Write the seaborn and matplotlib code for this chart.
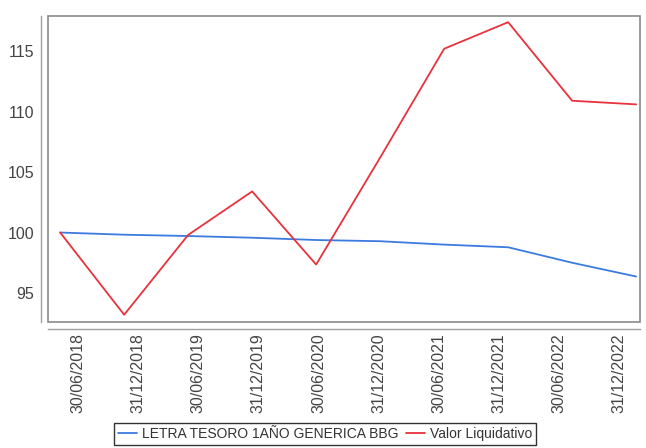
import numpy as np
import pandas as pd
import matplotlib
matplotlib.use("Agg")
import matplotlib.pyplot as plt
from matplotlib.patches import Rectangle
import seaborn as sns

# ---- data ----
periods = np.arange(10)
letra = [100.0, 99.82, 99.71, 99.57, 99.38, 99.28, 99.0, 98.78, 97.5, 96.36]
valor = [100.0, 93.2, 99.8, 103.4, 97.35, 106.2, 115.2, 117.4, 110.9, 110.6]
series_names = ["LETRA TESORO 1AÑO GENERICA BBG", "Valor Liquidativo"]
tick_labels = ["30/06/2018", "31/12/2018", "30/06/2019", "31/12/2019", "30/06/2020",
               "31/12/2020", "30/06/2021", "31/12/2021", "30/06/2022", "31/12/2022"]
y_ticks = [95, 100, 105, 110, 115]

df = pd.DataFrame({
    "x": np.concatenate([periods, periods]),
    "value": letra + valor,
    "serie": [series_names[0]] * 10 + [series_names[1]] * 10,
})

sns.set_theme(style="white")
plt.rcParams["font.family"] = ["Liberation Sans", "DejaVu Sans"]

fig = plt.figure(figsize=(6.46, 4.48), dpi=100)
ax = fig.add_axes([0.0743, 0.2813, 0.9907 - 0.0743, 0.964 - 0.2813])

sns.lineplot(data=df, x="x", y="value", hue="serie",
             palette={series_names[0]: "#3b7be0", series_names[1]: "#e8323c"},
             linewidth=1.3, ax=ax)

ax.set_xlim(-0.19, 9.06)
ax.set_ylim(92.6, 117.9)
ax.set_yticks(y_ticks)
ax.set_yticklabels([str(v) for v in y_ticks])
tick_pos = 0.281 + 0.939 * np.arange(len(tick_labels))
ax.set_xticks(tick_pos)
ax.set_xticklabels(tick_labels)
ax.set_xlabel("")
ax.set_ylabel("")

grey = "#8a8a8a"
for s in ["top", "right"]:
    ax.spines[s].set_visible(False)
for s in ["left", "bottom"]:
    ax.spines[s].set_position(("outward", 5))
    ax.spines[s].set_color("#a0a0a0")
    ax.spines[s].set_linewidth(1.0)
ax.add_patch(Rectangle((0, 0), 1, 1, transform=ax.transAxes, fill=False,
                       edgecolor=grey, linewidth=1.2, clip_on=False, zorder=5))

ax.tick_params(axis="both", which="both", length=3, width=0.8, color="#a0a0a0",
               labelcolor="#444444", labelsize=11.5, pad=2)
ax.tick_params(axis="x", labelrotation=90, pad=0)
for lbl in ax.get_xticklabels():
    lbl.set_rotation(90)
    lbl.set_ha("center")
    lbl.set_va("top")

handles, labels = ax.get_legend_handles_labels()
if ax.get_legend() is not None:
    ax.get_legend().remove()
leg = fig.legend(handles, labels, loc="upper center", bbox_to_anchor=(0.503, 0.056),
                 ncol=2, frameon=True, fancybox=False, fontsize=10,
                 handlelength=1.4, handletextpad=0.35, columnspacing=0.5,
                 borderpad=0.3, borderaxespad=0)
leg.get_frame().set_edgecolor("black")
leg.get_frame().set_linewidth(1.0)
for t in leg.get_texts():
    t.set_color("#333333")

fig.savefig("out.png", dpi=100)
